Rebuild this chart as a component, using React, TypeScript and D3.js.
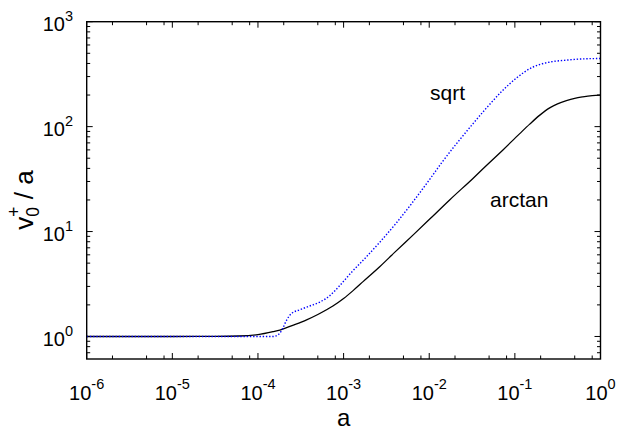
import React from 'react';
import * as d3 from 'd3';

// axis decades / minor tick multiples
const xDecades = [-6, -5, -4, -3, -2, -1, 0];
const yDecades = [0, 1, 2, 3];
const xMinorMultiples = [2, 5, 8];
const yMinorMultiples = [2, 3, 4, 5, 6, 7, 8, 9];

// arctan curve (solid black)
const arctanA = [1e-6, 1e-5, 3e-5, 6e-5, 1e-4, 1.5e-4, 1.8e-4, 2.5e-4, 3.7e-4, 5e-4, 7.5e-4, 1e-3, 1.3e-3, 1.7e-3, 2.64e-3, 4e-3, 6.5e-3, 0.01, 0.0173, 0.0324, 0.05, 0.0726, 0.114, 0.149, 0.194, 0.255, 0.315, 0.4, 0.5, 0.62, 0.8, 1];
const arctanV = [1, 1, 1.003, 1.01, 1.04, 1.11, 1.15, 1.27, 1.44, 1.62, 1.95, 2.3, 2.75, 3.35, 4.62, 6.4, 9.3, 13.0, 20, 32.1, 45, 60, 85.8, 105.6, 128, 151, 165, 177, 186, 192, 197.5, 200];

// sqrt curve (blue dotted)
const sqrtA = [1e-6, 1e-5, 5e-5, 1e-4, 1.5e-4, 1.75e-4, 1.95e-4, 2.15e-4, 2.45e-4, 3.1e-4, 4e-4, 5.3e-4, 6.9e-4, 9e-4, 1.24e-3, 1.7e-3, 4.1e-3, 0.01, 0.0139, 0.0313, 0.0464, 0.0697, 0.104, 0.163, 0.255, 0.4, 0.62, 1];
const sqrtV = [1, 1, 1, 1, 1, 1.05, 1.2, 1.42, 1.65, 1.8, 1.95, 2.13, 2.45, 3.05, 4.1, 5.35, 12.0, 31, 45, 103, 150, 215, 290, 370, 412, 430, 442, 446];

const FONT = 'Liberation Sans, Arial, Helvetica, sans-serif';

export default function App() {
  const width = 618;
  const height = 431;
  const left = 86.7, right = 600.5, top = 21.7, bottom = 359;

  const x = d3.scaleLog().domain([1e-6, 1]).range([left, right]);
  const y = d3.scaleLog().domain([0.61, 1000]).range([bottom, top]);

  const line = d3.line<[number, number]>()
    .x(d => x(d[0]))
    .y(d => y(d[1]))
    .curve(d3.curveMonotoneX);

  const arctanPath = line(arctanA.map((a, i) => [a, arctanV[i]]));
  const sqrtPath = line(sqrtA.map((a, i) => [a, sqrtV[i]]));

  // tick positions
  const xMajor = xDecades.map(e => Math.pow(10, e));
  const xMinor: number[] = [];
  xDecades.slice(0, -1).forEach(e => xMinorMultiples.forEach(m => xMinor.push(m * Math.pow(10, e))));
  const yMajor = yDecades.map(e => Math.pow(10, e));
  const yMinor: number[] = [];
  [-1, 0, 1, 2].forEach(e => yMinorMultiples.forEach(m => {
    const v = m * Math.pow(10, e);
    if (v > 0.61 && v < 1000) yMinor.push(v);
  }));

  const majLen = 6, minLen = 3.5;

  return (
    <svg width={width} height={height} style={{ position: 'absolute', left: 0, top: 0, background: '#fff' }} fontFamily={FONT}>
      <rect width={width} height={height} fill="#fff" />

      {/* ticks */}
      <g stroke="#000" strokeWidth={1}>
        {xMajor.map((v, i) => (
          <g key={'xM' + i}>
            <line x1={x(v)} x2={x(v)} y1={bottom} y2={bottom - majLen} />
            <line x1={x(v)} x2={x(v)} y1={top} y2={top + majLen} />
          </g>
        ))}
        {xMinor.map((v, i) => (
          <g key={'xm' + i}>
            <line x1={x(v)} x2={x(v)} y1={bottom} y2={bottom - minLen} />
            <line x1={x(v)} x2={x(v)} y1={top} y2={top + minLen} />
          </g>
        ))}
        {yMajor.map((v, i) => (
          <g key={'yM' + i}>
            <line x1={left} x2={left + majLen} y1={y(v)} y2={y(v)} />
            <line x1={right} x2={right - majLen} y1={y(v)} y2={y(v)} />
          </g>
        ))}
        {yMinor.map((v, i) => (
          <g key={'ym' + i}>
            <line x1={left} x2={left + minLen} y1={y(v)} y2={y(v)} />
            <line x1={right} x2={right - minLen} y1={y(v)} y2={y(v)} />
          </g>
        ))}
      </g>

      {/* curves */}
      <path d={arctanPath || ''} fill="none" stroke="#000" strokeWidth={1.3} />
      <path d={sqrtPath || ''} fill="none" stroke="#0000ff" strokeWidth={1.4} strokeDasharray="1.4 1.8" />

      {/* frame */}
      <rect x={left} y={top} width={right - left} height={bottom - top} fill="none" stroke="#000" strokeWidth={1.4} />

      {/* x tick labels */}
      {xDecades.map((e, i) => (
        <text key={'xl' + i} x={x(Math.pow(10, e))} y={400} textAnchor="middle" fontSize={20} fill="#000">
          10<tspan dy={-11} fontSize={14.5}>{String(e)}</tspan>
        </text>
      ))}

      {/* y tick labels */}
      {yDecades.map((e, i) => (
        <text key={'yl' + i} x={73} y={y(Math.pow(10, e)) + 9.5} textAnchor="end" fontSize={20} fill="#000">
          10<tspan dy={-10} fontSize={14.5}>{String(e)}</tspan>
        </text>
      ))}

      {/* axis titles */}
      <text x={(left + right) / 2} y={426} textAnchor="middle" fontSize={24} fill="#000">a</text>
      <text transform="translate(33,200) rotate(-90)" textAnchor="middle" fontSize={26} fill="#000">
        v<tspan fontSize={17.5} dy={6}>0</tspan><tspan fontSize={17.5} dx={-9.7} dy={-19}>+</tspan><tspan fontSize={26} dy={13}>{'\u00a0/\u00a0a'}</tspan>
      </text>

      {/* curve labels */}
      <text x={430} y={100} fontSize={21} fill="#000">sqrt</text>
      <text x={490} y={207} fontSize={21} fill="#000">arctan</text>
    </svg>
  );
}
